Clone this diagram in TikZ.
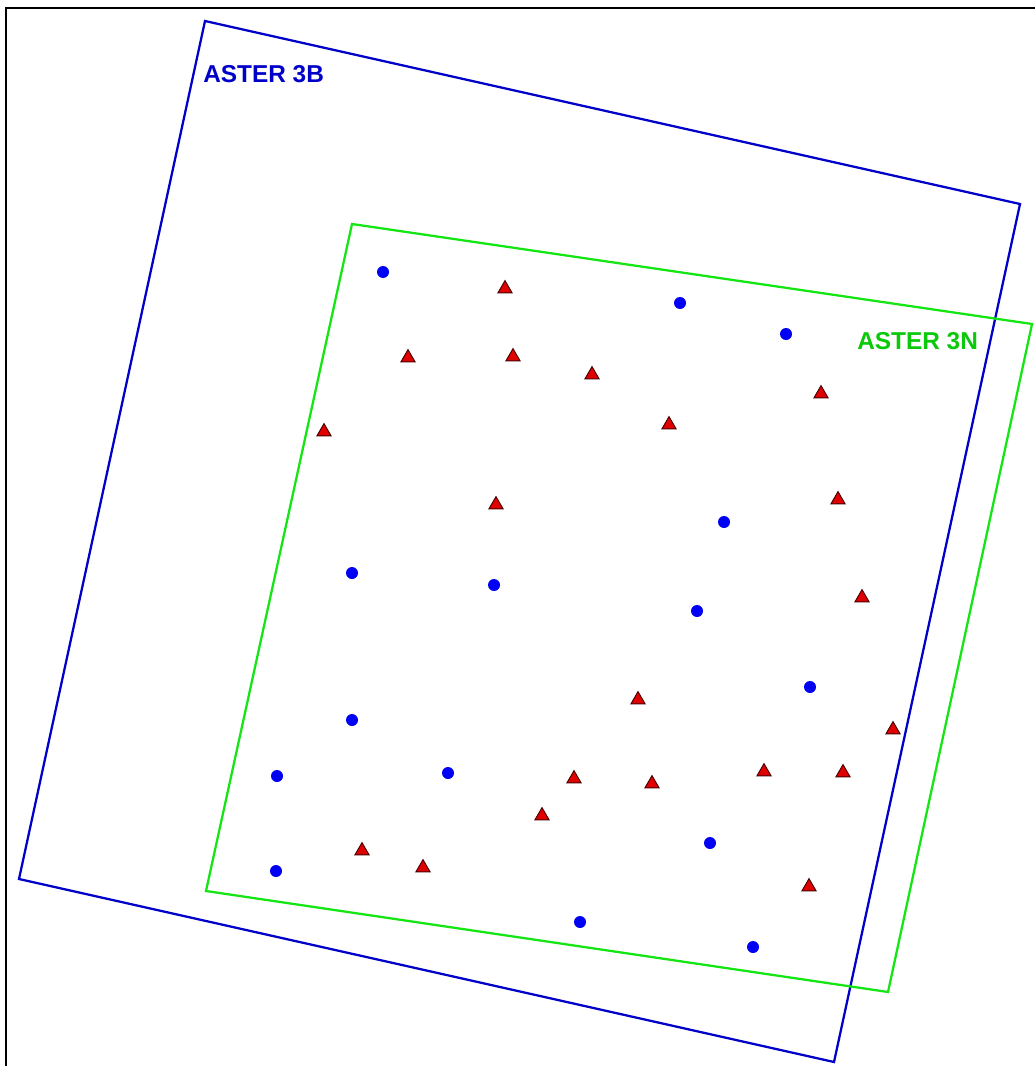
\documentclass[tikz,border=0pt]{standalone}
\usepackage{fontspec}
\setmainfont{Liberation Sans}
\usetikzlibrary{shapes.geometric}
\definecolor{boxblue}{RGB}{0,0,200}
\definecolor{ptblue}{RGB}{0,0,245}
\definecolor{boxgreen}{RGB}{20,230,20}
\definecolor{txtgreen}{RGB}{10,200,10}
\definecolor{tri}{RGB}{225,0,0}
\definecolor{trio}{RGB}{70,0,0}
\tikzset{
  gcp/.style={circle,fill=ptblue,inner sep=0pt,minimum size=9pt},
  chk/.style={regular polygon,regular polygon sides=3,fill=tri,draw=trio,line width=0.7pt,inner sep=0pt,minimum size=12.2pt,yshift=-1.3pt},
  frame/.style={line width=1.7pt,line join=miter},
  lbl/.style={font=\bfseries\fontsize{18.3}{21}\selectfont,inner sep=0pt,anchor=west}
}
\begin{document}
\begin{tikzpicture}[x=0.75pt,y=-0.75pt]
\useasboundingbox (0,0) rectangle (1034,1066);
\fill[white] (0,0) rectangle (1034,1066);
% outer frame (left and top edges)
\draw[line width=1.5pt,black] (6,1070) -- (6,8) -- (1040,8);
% scene footprints
\draw[frame,boxblue] (205,21) -- (1020,204) -- (834,1062) -- (19,879) -- cycle;
\draw[frame,boxgreen] (352,224) -- (1032,324) -- (888,992) -- (206,891) -- cycle;
\node[lbl,text=boxblue] (l3b) at (203,74) {ASTER 3B};
\node[lbl,text=txtgreen] (l3n) at (857,341) {ASTER 3N};
% blue points
\foreach \x/\y [count=\i] in {383/272,680/303,786/334,724/522,352/573,494/585,697/611,810/687,352/720,277/776,448/773,710/843,276/871,580/922,753/947}
  \node[gcp] (b\i) at (\x,\y) {};
% red triangles
\foreach \x/\y [count=\i] in {505/287,408/356,513/355,592/373,821/392,324/430,669/423,496/503,838/498,862/596,638/698,893/728,574/777,652/782,764/770,843/771,542/814,362/849,423/866,809/885}
  \node[chk] (r\i) at (\x,\y) {};
\end{tikzpicture}
\end{document}
